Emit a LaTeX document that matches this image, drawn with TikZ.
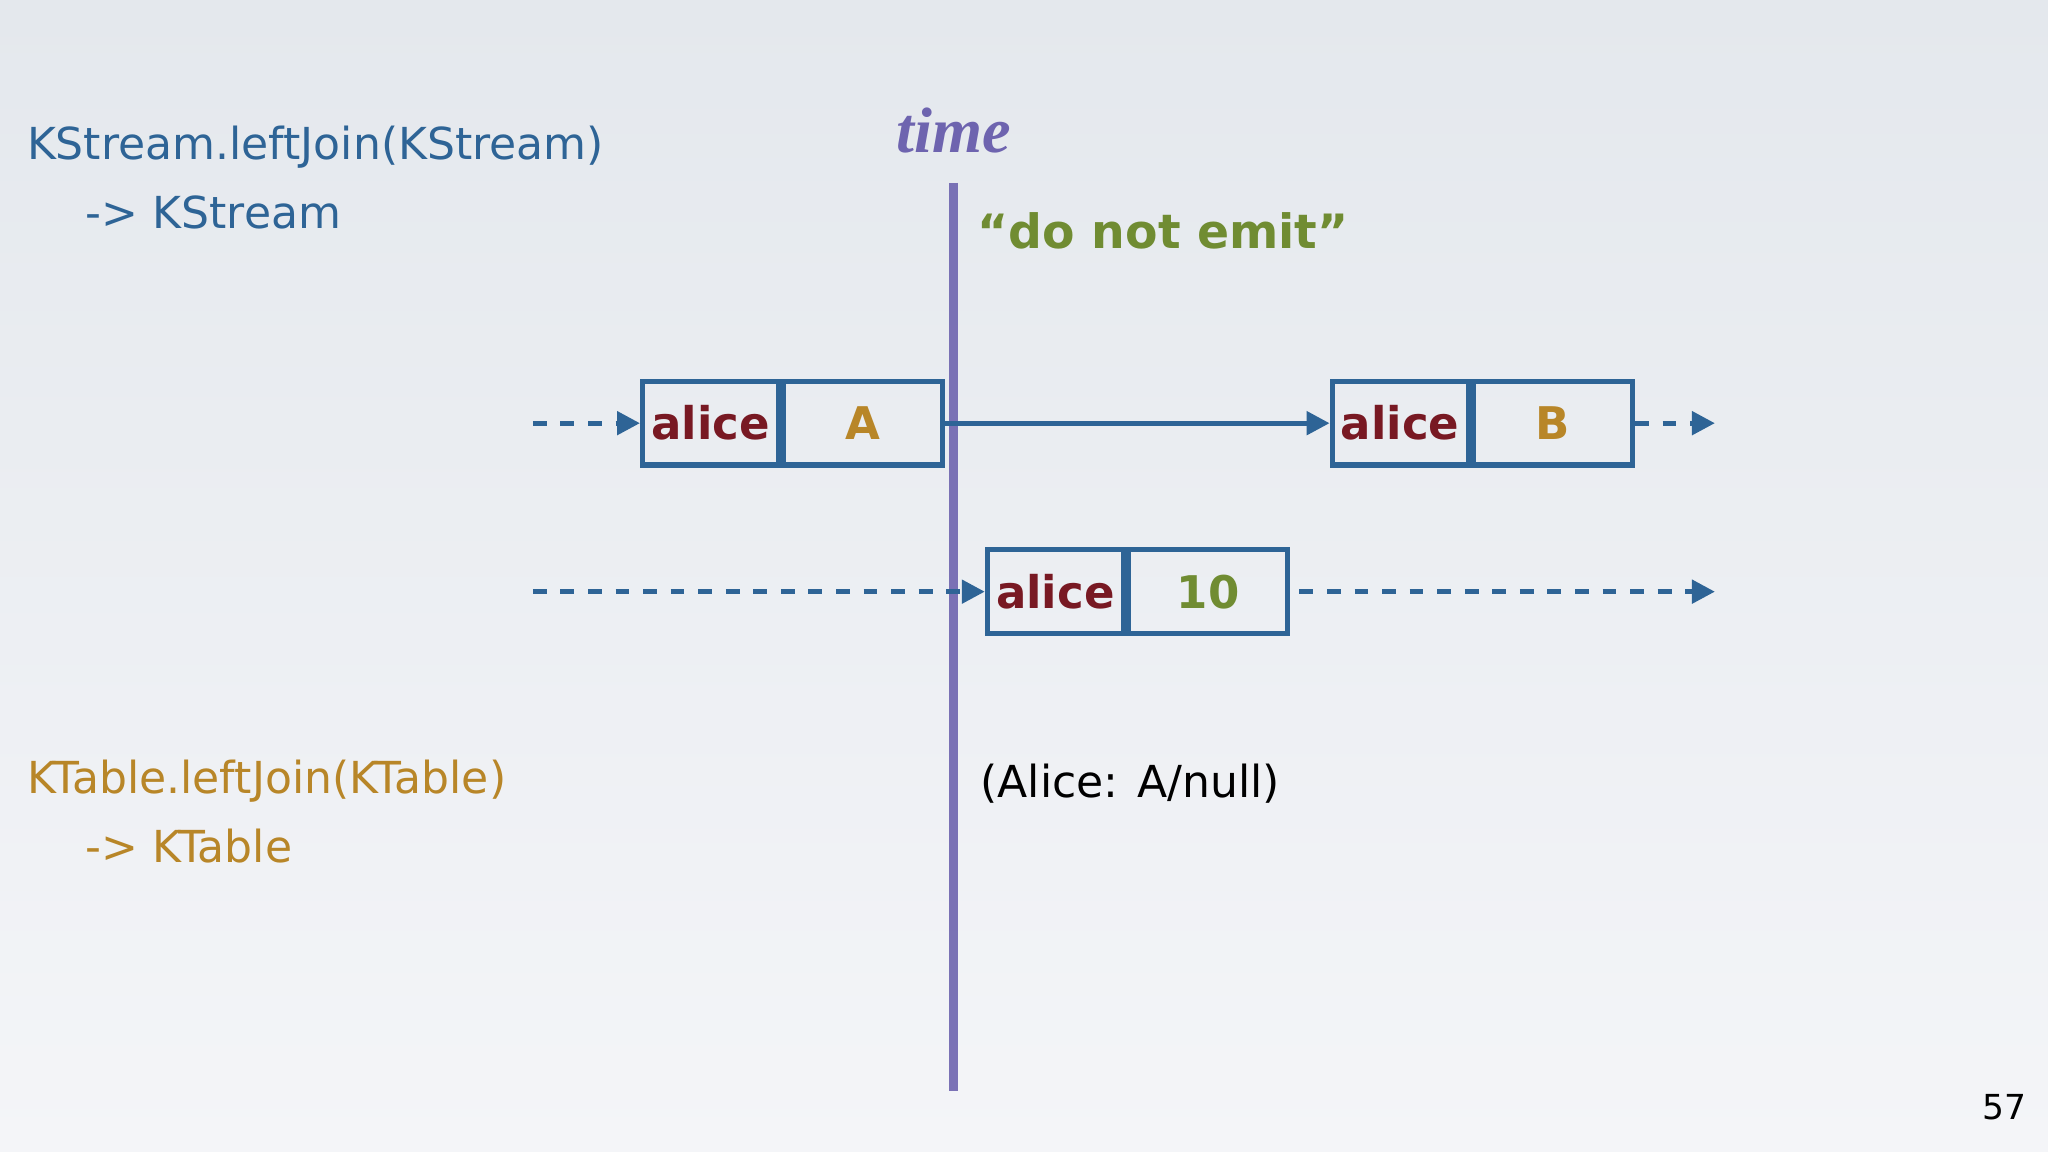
\documentclass[tikz,border=0pt]{standalone}
\usepackage{fontspec}
\setmainfont{DejaVu Sans}
\newfontfamily\serifit{Liberation Serif}
\usetikzlibrary{arrows.meta}
\definecolor{kblue}{RGB}{46,100,150}
\definecolor{korange}{RGB}{184,134,40}
\definecolor{kred}{RGB}{120,25,35}
\definecolor{kgreen}{RGB}{112,140,50}
\definecolor{kpurple}{RGB}{110,100,175}
\definecolor{bgtop}{RGB}{228,232,237}
\definecolor{bgbot}{RGB}{244,245,248}
\tikzset{
  cell/.style={draw=kblue,line width=1.1pt,minimum height=0.64cm,inner sep=0pt,font=\bfseries\fontsize{9.8}{12}\selectfont},
  keycell/.style={cell,minimum width=1.04cm,text=kred},
  valcell/.style={cell,minimum width=1.22cm},
  flow/.style={kblue,line width=1.1pt,-{Triangle[length=5pt,width=5pt]}},
  dflow/.style={flow,dash pattern=on 3pt off 3pt},
  lbl/.style={anchor=west,inner sep=0pt,font=\fontsize{9.6}{12}\selectfont}
}
\begin{document}
\begin{tikzpicture}[x=0.01cm,y=-0.01cm]
\useasboundingbox (0,0) rectangle (1568,882);
\shade[top color=bgtop,bottom color=bgbot] (0,0) rectangle (1568,882);
\node[lbl,text=kblue] (ks) at (20,113) {KStream.leftJoin(KStream)};
\node[lbl,text=kblue] (ks2) at (65,163) {-> KStream};
\node[lbl,text=korange] (kt) at (20,598) {KTable.leftJoin(KTable)};
\node[lbl,text=korange] (kt2) at (65,648) {-> KTable};
\node[text=kpurple,font=\serifit\bfseries\itshape\fontsize{14}{16}\selectfont] (time) at (730,100) {time};
\draw[kpurple,line width=2pt,opacity=0.9] (730,140) -- (730,835);
\node[lbl,text=kgreen,font=\bfseries\fontsize{10.3}{13}\selectfont] (dne) at (748,177) {“do not emit”};
% row 1
\node[keycell,anchor=west] (k1) at (490,324) {alice};
\node[valcell,anchor=west,text=korange] (v1) at (k1.east) {A};
\node[keycell,anchor=west] (k2) at (1018,324) {alice};
\node[valcell,anchor=west,text=korange] (v2) at (k2.east) {B};
\coordinate (s1) at (408,324);
\coordinate (e1) at (1313,324);
\draw[dflow] (s1) -- (k1.west);
\draw[flow] (v1.east) -- (k2.west);
\draw[dflow] (v2.east) -- (e1);
% row 2
\node[keycell,anchor=west] (k3) at (754,453) {alice};
\node[valcell,anchor=west,text=kgreen] (v3) at (k3.east) {10};
\coordinate (s2) at (408,453);
\coordinate (e2) at (1313,453);
\draw[dflow] (s2) -- (k3.west);
\draw[dflow] ([xshift=2pt]v3.east) -- (e2);
\node[lbl,text=black] (res) at (750,600) {(Alice: A/null)};
\node[font=\fontsize{7.5}{9}\selectfont,text=black] (pg) at (1535,848) {57};
\end{tikzpicture}
\end{document}
